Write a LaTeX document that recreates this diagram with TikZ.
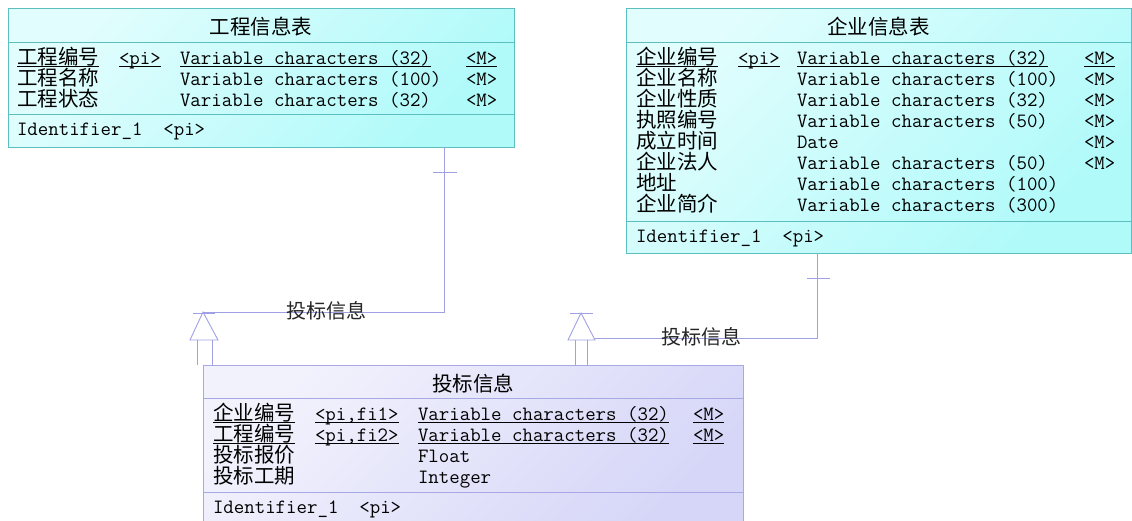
\documentclass[tikz,border=0pt]{standalone}
\usepackage{fontspec}
\newfontfamily\cjk{Noto Sans CJK SC}
\definecolor{cyb}{RGB}{92,190,190}
\definecolor{cyt}{RGB}{226,253,253}
\definecolor{cybot}{RGB}{176,250,250}
\definecolor{lvb}{RGB}{168,168,228}
\definecolor{lvt}{RGB}{242,242,253}
\definecolor{lvbot}{RGB}{214,214,248}
\definecolor{lnc}{RGB}{160,160,228}
\tikzset{
  cytab/.style={draw=cyb, line width=1pt, top color=cyt, bottom color=cybot, shading angle=45, inner sep=0pt, outer sep=0pt, anchor=north west},
  lvtab/.style={draw=lvb, line width=1pt, top color=lvt, bottom color=lvbot, shading angle=45, inner sep=0pt, outer sep=0pt, anchor=north west},
  tt/.style={anchor=base west, inner sep=0pt, outer sep=0pt, text depth=2.6pt, font=\ttfamily\fontsize{20.3}{22}\selectfont},
  cn/.style={anchor=base west, inner sep=0pt, outer sep=0pt, text depth=2.6pt, font=\cjk\fontsize{20.5}{22}\selectfont},
  ttl/.style={anchor=base, inner sep=0pt, outer sep=0pt, font=\cjk\fontsize{20.5}{22}\selectfont},
  rlab/.style={anchor=center, inner sep=0pt, outer sep=0pt, text=black!85, font=\cjk\fontsize{20}{22}\selectfont},
  ul/.style={draw=black, line width=0.9pt},
  conn/.style={draw=lnc, line width=0.9pt},
}
\newcommand\cols[4]{\def\xa{#1}\def\xb{#2}\def\xc{#3}\def\xd{#4}}
\newcommand\arow[6]{%
  \node[cn] (#1n) at (\xa,#2) {#3};
  \node[tt] (#1k) at (\xb,#2) {#4};
  \node[tt] (#1t) at (\xc,#2) {#5};
  \node[tt] (#1m) at (\xd,#2) {#6};}
\newcommand\urow[6]{%
  \arow{#1}{#2}{#3}{#4}{#5}{#6}
  \draw[ul] (#1n.south west) -- (#1n.south east);
  \draw[ul] (#1k.south west) -- (#1k.south east);
  \draw[ul] (#1t.south west) -- (#1t.south east);
  \draw[ul] (#1m.south west) -- (#1m.south east);}
\begin{document}
\begin{tikzpicture}[x=1pt,y=-1pt]
\useasboundingbox (0,0) rectangle (1132,520);
% ---------- left table
\node[cytab, minimum width=506pt, minimum height=139pt] (T1) at (8,8) {};
\draw[draw=cyb, line width=1pt] (8,42) -- (514,42) (8,114) -- (514,114);
\node[ttl] (T1h) at (261,34) {工程信息表};
\cols{17}{119}{180}{466}
\urow{a1}{64}{工程编号}{<pi>}{Variable characters (32)}{<M>}
\arow{a2}{85}{工程名称}{}{Variable characters (100)}{<M>}
\arow{a3}{106}{工程状态}{}{Variable characters (32)}{<M>}
\node[tt] (T1id) at (17,135) {Identifier\_1\ \ <pi>};
% ---------- right table
\node[cytab, minimum width=505pt, minimum height=245pt] (T2) at (626,8) {};
\draw[draw=cyb, line width=1pt] (626,42) -- (1131,42) (626,221) -- (1131,221);
\node[ttl] (T2h) at (878.5,34) {企业信息表};
\cols{636}{738}{797}{1084}
\urow{b1}{64}{企业编号}{<pi>}{Variable characters (32)}{<M>}
\arow{b2}{85}{企业名称}{}{Variable characters (100)}{<M>}
\arow{b3}{106}{企业性质}{}{Variable characters (32)}{<M>}
\arow{b4}{127}{执照编号}{}{Variable characters (50)}{<M>}
\arow{b5}{148}{成立时间}{}{Date}{<M>}
\arow{b6}{169}{企业法人}{}{Variable characters (50)}{<M>}
\arow{b7}{190}{地址}{}{Variable characters (100)}{}
\arow{b8}{211}{企业简介}{}{Variable characters (300)}{}
\node[tt] (T2id) at (636,242) {Identifier\_1\ \ <pi>};
% ---------- bottom table
\node[lvtab, minimum width=540pt, minimum height=165pt] (T3) at (203,365) {};
\draw[draw=lvb, line width=1pt] (203,398) -- (743,398) (203,492) -- (743,492);
\node[ttl] (T3h) at (473,391) {投标信息};
\cols{213}{315}{418}{693}
\urow{c1}{420}{企业编号}{<pi,fi1>}{Variable characters (32)}{<M>}
\urow{c2}{441}{工程编号}{<pi,fi2>}{Variable characters (32)}{<M>}
\arow{c3}{462}{投标报价}{}{Float}{}
\arow{c4}{483}{投标工期}{}{Integer}{}
\node[tt] (T3id) at (213,513) {Identifier\_1\ \ <pi>};
% ---------- connector 1 (工程信息表 -> 投标信息)
\coordinate (p1a) at (444,147);
\coordinate (p1b) at (444,312);
\coordinate (p1c) at (203,312);
\draw[conn] (p1a) -- (p1b) -- (p1c);
\draw[conn] (433,172) -- (457,172);
\draw[conn] (193,313) -- (215,313);
\draw[conn] (p1c) -- (190,340) -- (218,340) -- cycle;
\draw[conn] (197,340) -- (197,365) (212,340) -- (212,365);
\node[rlab] (L1) at (326,311) {投标信息};
% ---------- connector 2 (企业信息表 -> 投标信息)
\coordinate (p2a) at (817,253);
\coordinate (p2b) at (817,338);
\coordinate (p2c) at (595,338);
\draw[conn] (p2a) -- (p2b) -- (p2c);
\draw[conn] (807,278) -- (830,278);
\draw[conn] (570,313) -- (593,313);
\draw[conn] (581,313) -- (568,340) -- (595,340) -- cycle;
\draw[conn] (575,340) -- (575,365) (587,340) -- (587,365);
\node[rlab] (L2) at (701,337) {投标信息};
\end{tikzpicture}
\end{document}
